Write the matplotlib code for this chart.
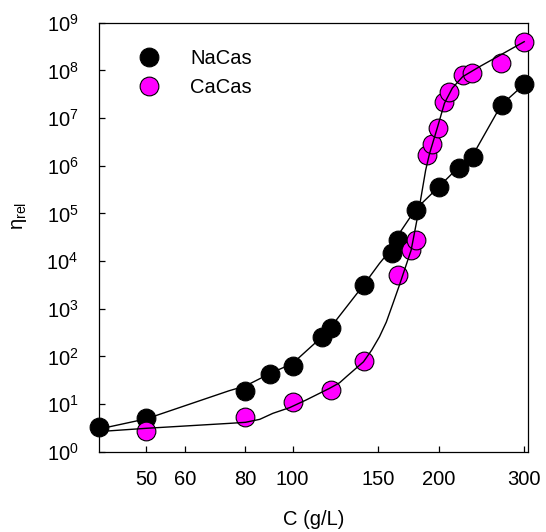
import numpy as np
import matplotlib
matplotlib.use('Agg')
import matplotlib.pyplot as plt
from matplotlib.ticker import FixedLocator, NullLocator, FixedFormatter, LogFormatterMathtext

plt.rcParams['font.family'] = ['Liberation Sans', 'DejaVu Sans']
plt.rcParams['mathtext.default'] = 'regular'

# measured points
na_c = [40, 50, 80, 90, 100, 115, 120, 140, 160, 165, 180, 200, 220, 235, 270, 300]
na_eta = [3.3, 5.2, 19, 43, 63, 250, 400, 3100, 15000, 28000,
          1.2e5, 3.5e5, 9.0e5, 1.5e6, 1.9e7, 5.1e7]

ca_c = [50, 80, 100, 120, 140, 165, 175, 180, 189, 194, 199, 205, 210, 224, 234, 269, 300]
ca_eta = [2.7, 5.4, 11, 20, 80, 5000, 17000, 27000, 1.65e6, 2.9e6, 6.3e6,
          2.2e7, 3.5e7, 7.9e7, 8.8e7, 1.4e8, 4.0e8]

# fitted curves
na_fit_c = [40, 50, 74, 80, 90, 100, 115, 120, 140, 151, 158, 165, 179, 200, 219, 234, 269, 300]
na_fit_eta = [3.0, 4.9, 19, 24, 44, 71, 258, 417, 3125, 8900, 15600, 35000,
              1.2e5, 3.6e5, 9.0e5, 1.53e6, 1.88e7, 5.1e7]

ca_fit_c = [40, 50, 74.3, 80, 85.6, 91.1, 98.6, 106.7, 119.2, 125, 129.5, 140, 145.5,
            151, 156, 161, 166, 170, 175.5, 182, 188, 191.5, 199, 205.5, 213.4, 224,
            242.5, 300]
ca_fit_eta = [2.65, 3.1, 3.94, 4.14, 4.78, 6.39, 8.4, 12.2, 21.4, 28, 38.6, 77, 135,
              258, 525, 1290, 3130, 6460, 1.7e4, 1.17e5, 8.1e5, 1.8e6, 6.6e6, 2.04e7,
              4.27e7, 7.36e7, 1.19e8, 4.0e8]

xticks = [50, 60, 80, 100, 150, 200, 300]
xtick_labels = ['50', '60', '80', '100', '150', '200', '300']

fig = plt.figure(figsize=(5.46, 5.32), dpi=100)
ax = fig.add_axes([0.1819, 0.1509, 0.7846, 0.8064])

ax.plot(na_c, na_eta, 'o', ms=13.5, mfc='black', mec='black', mew=0.8,
        label='NaCas', zorder=3, clip_on=False)
ax.plot(ca_c, ca_eta, 'o', ms=13.5, mfc='#ff00ff', mec='black', mew=0.8,
        label='CaCas', zorder=3, clip_on=False)
ax.plot(na_fit_c, na_fit_eta, '-', color='black', lw=1.0, zorder=4)
ax.plot(ca_fit_c, ca_fit_eta, '-', color='black', lw=1.0, zorder=4)

ax.set_xscale('log')
ax.set_yscale('log')
ax.set_xlim(40, 305)
ax.set_ylim(1, 1e9)

ax.xaxis.set_major_locator(FixedLocator(xticks))
ax.xaxis.set_major_formatter(FixedFormatter(xtick_labels))
ax.xaxis.set_minor_locator(NullLocator())
ax.yaxis.set_major_locator(FixedLocator([10.0 ** k for k in range(10)]))
ax.yaxis.set_major_formatter(LogFormatterMathtext())
ax.yaxis.set_minor_locator(NullLocator())

ax.tick_params(which='major', direction='in', length=4.3, width=0.9,
               labelsize=14.5, top=False, right=False)
ax.tick_params(axis='x', pad=13.5)
ax.tick_params(axis='y', pad=15)
for s in ax.spines.values():
    s.set_linewidth(0.9)

ax.set_xlabel('C (g/L)', fontsize=14.5, labelpad=15)
ax.set_ylabel('η$_{rel}$', fontsize=14.5)
ax.yaxis.set_label_coords(-0.165, 0.55)

ax.legend(loc='upper left', bbox_to_anchor=(0.088, 0.938), frameon=False,
          fontsize=14.5, borderpad=0, borderaxespad=0, handlelength=1.2,
          handletextpad=1.44, labelspacing=0.5)

fig.savefig('out.png', dpi=100)
